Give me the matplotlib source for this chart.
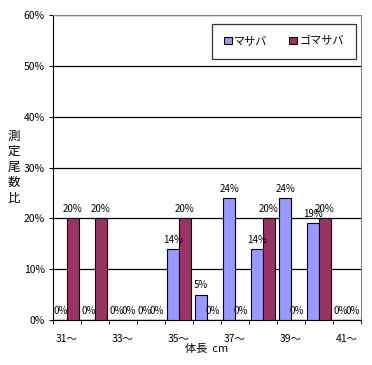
import numpy as np
import matplotlib
matplotlib.use("Agg")
import matplotlib.pyplot as plt
from matplotlib.patches import Patch

plt.rcParams['font.family'] = ['Noto Sans CJK JP', 'DejaVu Sans']

# body length classes (cm)
classes = ['31', '32', '33', '34', '35', '36', '37', '38', '39', '40', '41']
tick_labels = ['31〜', '', '33〜', '', '35〜', '', '37〜', '', '39〜', '', '41〜']
masaba = [0, 0, 0, 0, 14, 5, 24, 14, 24, 19, 0]
gomasaba = [20, 20, 0, 0, 20, 0, 0, 20, 0, 20, 0]
series_names = ['マサバ', 'ゴマサバ']

col_ma = '#9999FF'
col_go = '#993366'

fig = plt.figure(figsize=(3.72, 3.65), dpi=100)
ax = fig.add_axes([53/372, 45/365, 308/372, 305/365])

x = np.arange(len(classes))
w = 0.42
ax.bar(x - w/2, masaba, w, color=col_ma, edgecolor='black', linewidth=0.8, zorder=3)
ax.bar(x + w/2, gomasaba, w, color=col_go, edgecolor='black', linewidth=0.8, zorder=3)

for xi, v in zip(x - w/2, masaba):
    ax.annotate('%d%%' % v, (xi, v), xytext=(0, 3), textcoords='offset points',
                ha='center', va='bottom', fontsize=7, zorder=4)
for xi, v in zip(x + w/2, gomasaba):
    ax.annotate('%d%%' % v, (xi, v), xytext=(0, 3), textcoords='offset points',
                ha='center', va='bottom', fontsize=7, zorder=4)

ax.set_xlim(-0.5, len(classes) - 0.5)
ax.set_ylim(0, 60)
ax.set_yticks(np.arange(0, 61, 10))
ax.set_yticklabels(['%d%%' % t for t in range(0, 61, 10)], fontsize=7.5)
ax.yaxis.grid(True, color='black', linewidth=0.9, zorder=0)
ax.set_axisbelow(True)

ax.set_xticks(x)
ax.set_xticklabels(tick_labels, fontsize=7.5)
ax.set_xticks(np.arange(-0.5, len(classes)), minor=True)
ax.tick_params(axis='x', which='major', length=0, pad=10)
ax.tick_params(axis='x', which='minor', length=3, color='black')
ax.tick_params(axis='y', length=3, pad=3)

for s in ['top', 'right']:
    ax.spines[s].set_color('#808080')
for s in ['left', 'bottom']:
    ax.spines[s].set_color('black')

ax.set_xlabel('体長  cm', fontsize=8, labelpad=0)
fig.text(0.038, 0.542, '\n'.join('測定尾数比'), fontsize=9, ha='center', va='center',
         linespacing=1.25)

handles = [Patch(facecolor=col_ma, edgecolor='black', linewidth=0.8),
           Patch(facecolor=col_go, edgecolor='black', linewidth=0.8)]
leg = ax.legend(handles, series_names, loc='upper right', bbox_to_anchor=(0.984, 0.97),
                ncol=2, fontsize=8, frameon=True, fancybox=False, edgecolor='black',
                handlelength=0.7, handleheight=0.7, handletextpad=0.2, columnspacing=2.0,
                borderpad=1.1, borderaxespad=0)
leg.get_frame().set_linewidth(0.9)

fig.savefig('out.png', dpi=100)
